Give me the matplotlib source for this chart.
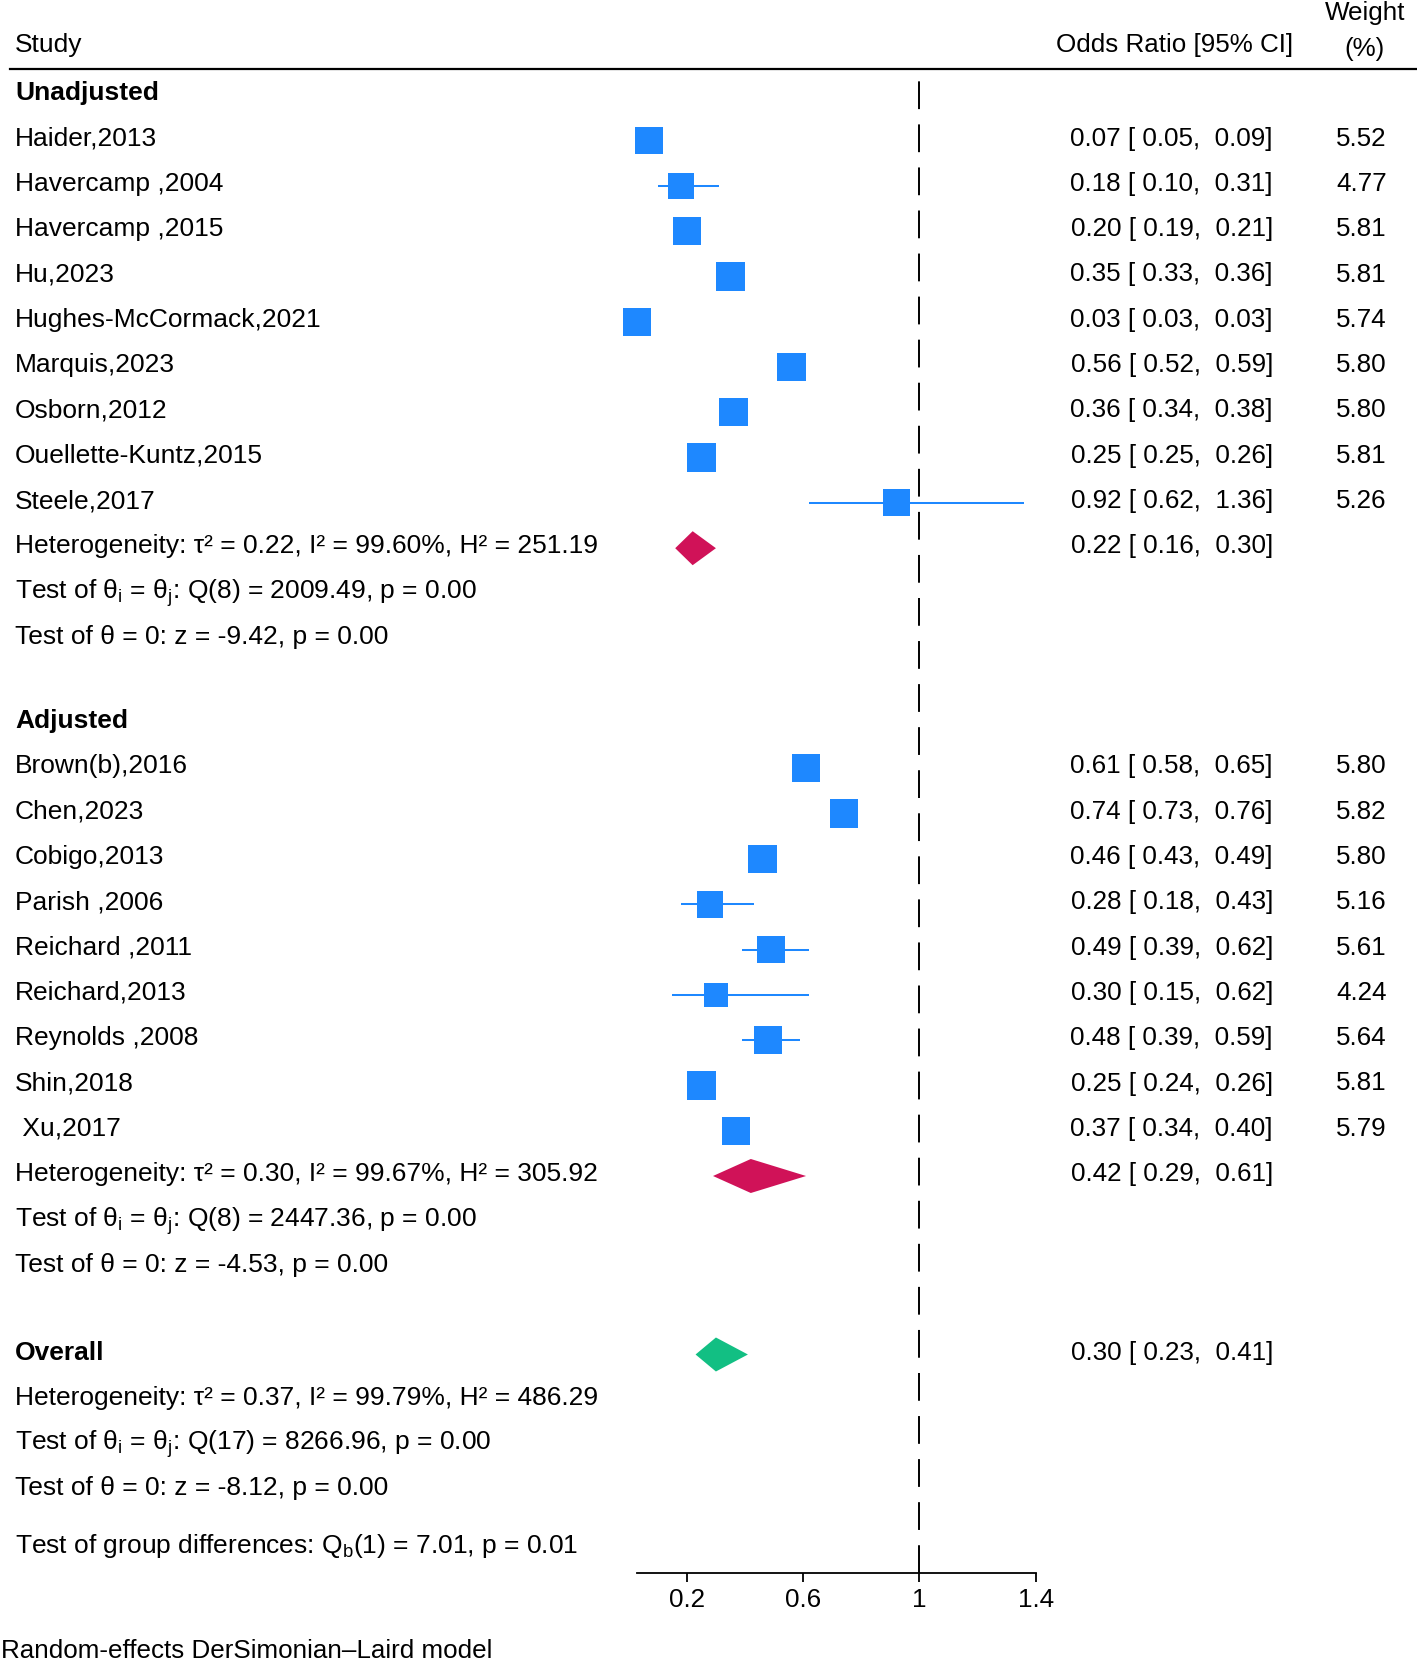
import numpy as np
import matplotlib
matplotlib.use("Agg")
import matplotlib.pyplot as plt
from matplotlib.transforms import blended_transform_factory
from matplotlib.lines import Line2D

plt.rcParams['font.family'] = ['Liberation Sans', 'DejaVu Sans']
plt.rcParams['mathtext.fontset'] = 'custom'
plt.rcParams['mathtext.rm'] = 'Liberation Sans'
plt.rcParams['mathtext.it'] = 'Liberation Sans:italic'
plt.rcParams['mathtext.bf'] = 'Liberation Sans:bold'
plt.rcParams['lines.scale_dashes'] = False

# ---------------- data ----------------
studies_unadj = ["Haider,2013", "Havercamp ,2004", "Havercamp ,2015", "Hu,2023",
                 "Hughes-McCormack,2021", "Marquis,2023", "Osborn,2012",
                 "Ouellette-Kuntz,2015", "Steele,2017"]
or_unadj = [0.07, 0.18, 0.20, 0.35, 0.03, 0.56, 0.36, 0.25, 0.92]
lo_unadj = [0.05, 0.10, 0.19, 0.33, 0.03, 0.52, 0.34, 0.25, 0.62]
hi_unadj = [0.09, 0.31, 0.21, 0.36, 0.03, 0.59, 0.38, 0.26, 1.36]
w_unadj = [5.52, 4.77, 5.81, 5.81, 5.74, 5.80, 5.80, 5.81, 5.26]

studies_adj = ["Brown(b),2016", "Chen,2023", "Cobigo,2013", "Parish ,2006",
               "Reichard ,2011", "Reichard,2013", "Reynolds ,2008", "Shin,2018",
               " Xu,2017"]
or_adj = [0.61, 0.74, 0.46, 0.28, 0.49, 0.30, 0.48, 0.25, 0.37]
lo_adj = [0.58, 0.73, 0.43, 0.18, 0.39, 0.15, 0.39, 0.24, 0.34]
hi_adj = [0.65, 0.76, 0.49, 0.43, 0.62, 0.62, 0.59, 0.26, 0.40]
w_adj = [5.80, 5.82, 5.80, 5.16, 5.61, 4.24, 5.64, 5.81, 5.79]

group_names = ["Unadjusted", "Adjusted"]
pooled_or = [0.22, 0.42]
pooled_lo = [0.16, 0.29]
pooled_hi = [0.30, 0.61]
tau2 = [0.22, 0.30]
i2 = [99.60, 99.67]
h2 = [251.19, 305.92]
q_df = [8, 8]
q_val = [2009.49, 2447.36]
z_val = [-9.42, -4.53]

overall_or, overall_lo, overall_hi = 0.30, 0.23, 0.41
overall_tau2, overall_i2, overall_h2 = 0.37, 99.79, 486.29
overall_qdf, overall_q, overall_z = 17, 8266.96, -8.12
grp_qdf, grp_q, grp_p = 1, 7.01, 0.01

xticks = [0.2, 0.6, 1.0, 1.4]
xtick_labels = ["0.2", "0.6", "1", "1.4"]

# ---------------- style ----------------
W, H = 1417, 1666
FS = 19.0
FS_NUM = 18.7
BLUE = '#1E88FF'
CRIMSON = '#D01258'
GREEN = '#12BF83'
ROW = 45.3
CAP = 7.6        # baseline offset below row centre (px)
MOFF = 2.5       # marker offset below text centre
X_AX_L, X_AX_R = 637.4, 1035.8
Y_TOP, Y_AX = 69.3, 1573.3

fig = plt.figure(figsize=(W / 100, H / 100), dpi=100)
ax = fig.add_axes([X_AX_L / W, (H - Y_AX) / H, (X_AX_R - X_AX_L) / W, (Y_AX - Y_TOP) / H])
xmin = min(min(lo_unadj), min(lo_adj))
ax.set_xlim(xmin, 1.4)
ax.set_ylim(Y_AX, Y_TOP)
for s in ['left', 'right', 'top']:
    ax.spines[s].set_visible(False)
ax.spines['bottom'].set_linewidth(1.3)
ax.set_yticks([])
ax.set_xticks(xticks)
ax.set_xticklabels(xtick_labels, fontsize=FS_NUM)
ax.tick_params(axis='x', length=6.5, width=1.3, pad=4)
ax.patch.set_alpha(0)

tr = blended_transform_factory(fig.transFigure, ax.transData)


def txt(xpx, ycen, s, ha='left', fs=FS, **kw):
    ax.text(xpx / W, ycen + CAP, s, transform=tr, ha=ha, va='baseline',
            fontsize=fs, clip_on=False, **kw)


# header
txt(15, 44, "Study")
txt(1293, 44.5, "Odds Ratio [95% CI]", ha='right', fs=FS_NUM)
txt(1365, 12.5, "Weight", ha='center', fs=FS_NUM)
txt(1365, 48, "(%)", ha='center', fs=FS_NUM)
fig.add_artist(Line2D([10 / W, 1], [(H - Y_TOP) / H] * 2, color='black', lw=1.6,
                      transform=fig.transFigure))

# reference line
ax.axvline(1.0, color='black', lw=1.4, ls=(0, (20, 11)), zorder=1)


def fmt_ci(o, l, h):
    return f"{o:.2f} [{l:5.2f}, {h:5.2f}]"


def diamond(est, lo, hi, yc, color):
    hh = 17
    ax.fill([lo, est, hi, est], [yc, yc - hh, yc, yc + hh], color=color,
            lw=0, zorder=3, clip_on=False)


def het_lines(y0, t2, ii2, hh2, qdf, q, z):
    txt(15, y0, f"Heterogeneity: τ² = {t2:.2f}, I² = {ii2:.2f}%, H² = {hh2:.2f}")
    txt(15, y0 + ROW, r"Test of $\mathrm{θ_i}$ = $\mathrm{θ_j}$: "
        + f"Q({qdf}) = {q:.2f}, p = 0.00")
    txt(15, y0 + 2 * ROW, f"Test of θ = 0: z = {z:.2f}, p = 0.00")


groups = [
    (studies_unadj, or_unadj, lo_unadj, hi_unadj, w_unadj),
    (studies_adj, or_adj, lo_adj, hi_adj, w_adj),
]
group_gaps = [0, 84.2]

y_hdr = 92.7
for gi, (names, ors, los, his, ws) in enumerate(groups):
    if gi > 0:
        y_hdr = y_hdr + 12 * ROW + group_gaps[gi]
    txt(15, y_hdr, group_names[gi], fontweight='bold')
    ys = y_hdr + ROW * np.arange(1, len(names) + 1)
    for n, o, l, h, w, yy in zip(names, ors, los, his, ws, ys):
        txt(15, yy, n)
        txt(1273, yy, fmt_ci(o, l, h), ha='right', fs=FS_NUM)
        txt(1361.5, yy, f"{w:.2f}", ha='center', fs=FS_NUM)
    ax.hlines(ys + MOFF, los, his, color=BLUE, lw=1.45, zorder=2, clip_on=False)
    ax.scatter(ors, ys + MOFF, marker='s', s=(8.46 * np.sqrt(ws)) ** 2,
               color=BLUE, linewidths=0, zorder=3, clip_on=False)
    y_het = y_hdr + 10 * ROW
    diamond(pooled_or[gi], pooled_lo[gi], pooled_hi[gi], y_het + MOFF, CRIMSON)
    txt(1273, y_het, fmt_ci(pooled_or[gi], pooled_lo[gi], pooled_hi[gi]),
        ha='right', fs=FS_NUM)
    het_lines(y_het, tau2[gi], i2[gi], h2[gi], q_df[gi], q_val[gi], z_val[gi])

# overall
y_ov = y_hdr + 12 * ROW + 87.9
txt(15, y_ov, "Overall", fontweight='bold')
diamond(overall_or, overall_lo, overall_hi, y_ov + MOFF, GREEN)
txt(1273, y_ov, fmt_ci(overall_or, overall_lo, overall_hi), ha='right', fs=FS_NUM)
het_lines(y_ov + ROW, overall_tau2, overall_i2, overall_h2, overall_qdf,
          overall_q, overall_z)
y_grp = y_ov + 3 * ROW + 58
txt(15, y_grp, r"Test of group differences: $\mathrm{Q_b}$"
    + f"({grp_qdf}) = {grp_q:.2f}, p = {grp_p:.2f}")

# footnote
txt(1, 1650, "Random-effects DerSimonian–Laird model", fs=FS_NUM)

fig.savefig("out.png", dpi=100)
